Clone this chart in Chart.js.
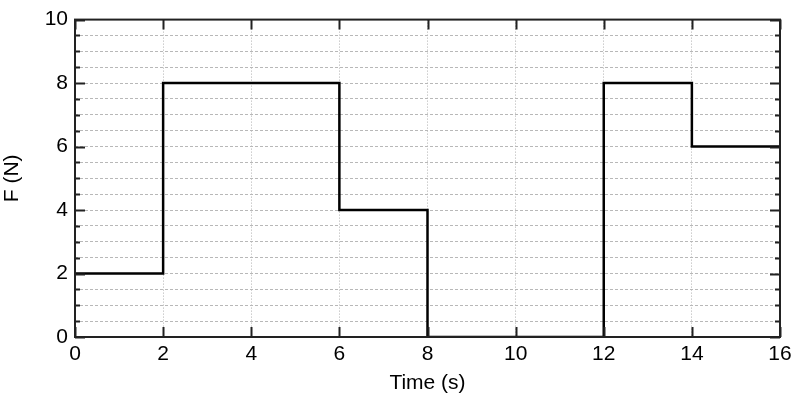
<!DOCTYPE html>
<html><head><meta charset="utf-8">
<script src="https://cdn.jsdelivr.net/npm/chart.js@4"></script>
<style>html,body{margin:0;padding:0;background:#fff}#wrap{width:800px;height:400px}</style>
</head><body><div id="wrap"><canvas id="c" width="800" height="400"></canvas></div>
<script>
const timeValues = [0, 2, 6, 8, 12, 14, 16];
const forceValues = [2, 8, 4, 0, 8, 6, 6];
const xTicks = [0, 2, 4, 6, 8, 10, 12, 14, 16];
const yTicks = [0, 2, 4, 6, 8, 10];

const points = timeValues.map((t, i) => ({x: t, y: forceValues[i]}));

const frame = {
  id: 'frame',
  afterDatasetsDraw(chart) {
    const {ctx, chartArea: a, scales: {x, y}} = chart;
    ctx.save();
    ctx.strokeStyle = '#222';
    ctx.lineWidth = 2;
    xTicks.forEach(v => {
      const px = Math.round(x.getPixelForValue(v)) + 0.5;
      ctx.beginPath();
      ctx.moveTo(px, a.bottom); ctx.lineTo(px, a.bottom - 10);
      ctx.moveTo(px, a.top); ctx.lineTo(px, a.top + 10);
      ctx.stroke();
    });
    for (let v = 0; v <= 10; v += 0.5) {
      const py = Math.round(y.getPixelForValue(v)) + 0.5;
      const len = (v % 2 === 0) ? 10 : 5;
      ctx.beginPath();
      ctx.moveTo(a.left, py); ctx.lineTo(a.left + len, py);
      ctx.moveTo(a.right, py); ctx.lineTo(a.right - len, py);
      ctx.stroke();
    }
    ctx.strokeRect(a.left, a.top, a.right - a.left, a.bottom - a.top);
    ctx.restore();
  }
};

new Chart(document.getElementById('c'), {
  type: 'scatter',
  data: {
    datasets: [{
      data: points,
      showLine: true,
      stepped: 'before',
      borderColor: '#000',
      borderWidth: 2.5,
      pointRadius: 0,
      fill: false
    }]
  },
  options: {
    responsive: false,
    animation: false,
    layout: {padding: {left: 0, top: 19, right: 20, bottom: 0}},
    plugins: {legend: {display: false}, tooltip: {enabled: false}},
    scales: {
      x: {
        type: 'linear', min: 0, max: 16,
        afterFit(s) { s.height = 63; },
        afterBuildTicks(s) { s.ticks = xTicks.map(v => ({value: v})); },
        ticks: {color: '#000', font: {family: 'Liberation Sans', size: 21}, padding: 5, maxRotation: 0},
        grid: {color: '#b0b0b0', lineWidth: 1, drawTicks: false},
        border: {display: false, dash: [1, 2]},
        title: {display: true, text: 'Time (s)', color: '#000', font: {family: 'Liberation Sans', size: 21}, padding: {top: 4}}
      },
      y: {
        type: 'linear', min: 0, max: 10,
        afterFit(s) { s.width = 75; },
        afterBuildTicks(s) {
          const t = [];
          for (let v = 0; v <= 10; v += 0.5) t.push({value: v});
          s.ticks = t;
        },
        ticks: {
          color: '#000', font: {family: 'Liberation Sans', size: 21}, padding: 7,
          autoSkip: false,
          callback: (v) => yTicks.includes(v) ? String(v) : ''
        },
        grid: {color: '#b8b8b8', lineWidth: 1, drawTicks: false},
        border: {display: false, dash: [3, 2]},
        title: {display: true, text: 'F (N)', color: '#000', font: {family: 'Liberation Sans', size: 21}, padding: {top: 0, bottom: 4}}
      }
    }
  },
  plugins: [frame]
});
</script></body></html>
